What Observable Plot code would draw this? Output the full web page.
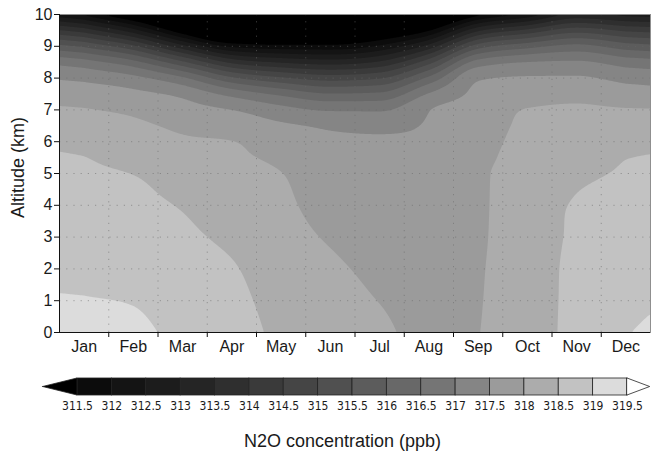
<!DOCTYPE html>
<html>
<head>
<meta charset="utf-8">
<script src="https://cdn.jsdelivr.net/npm/d3@7"></script>
<script src="https://cdn.jsdelivr.net/npm/@observablehq/plot@0.6"></script>
<style>
  body { margin: 0; background: #fff; }
  #chart svg { display: block; }
</style>
</head>
<body>
<div id="chart"></div>
<script>
// Monthly mean N2O (ppb) by altitude; one column per month, listed bottom to top.
const months = ["Jan", "Feb", "Mar", "Apr", "May", "Jun", "Jul", "Aug", "Sep", "Oct", "Nov", "Dec"];
const altitudes = [0, 1, 2, 3, 4, 5, 5.5, 6, 6.5, 7, 7.5, 8, 8.5, 9, 9.5, 10];
const n2o = [
  [319.15, 319.02, 318.90, 318.79, 318.68, 318.56, 318.51, 318.36, 318.19, 318.03, 317.75, 317.39, 316.70, 315.43, 313.77, 311.88], // Jan
  [319.10, 318.98, 318.86, 318.74, 318.62, 318.49, 318.36, 318.22, 318.09, 317.91, 317.62, 317.14, 316.16, 314.61, 312.69, 310.70], // Feb
  [318.88, 318.78, 318.68, 318.58, 318.47, 318.27, 318.16, 318.06, 317.91, 317.68, 317.38, 316.58, 315.10, 313.17, 311.08, 309.50], // Mar
  [318.75, 318.64, 318.54, 318.41, 318.28, 318.15, 318.08, 318.01, 317.78, 317.50, 316.84, 315.59, 313.88, 311.90, 309.90, 309.50], // Apr
  [318.38, 318.31, 318.23, 318.16, 318.09, 318.01, 317.90, 317.73, 317.57, 317.18, 316.39, 315.08, 313.45, 311.68, 309.90, 309.50], // May
  [318.25, 318.16, 318.07, 317.96, 317.83, 317.69, 317.63, 317.56, 317.45, 316.95, 316.03, 314.78, 313.27, 311.66, 310.05, 309.50], // Jun
  [318.10, 317.99, 317.90, 317.81, 317.72, 317.63, 317.58, 317.54, 317.41, 316.94, 316.10, 314.96, 313.58, 312.09, 310.60, 309.50], // Jul
  [317.85, 317.80, 317.75, 317.70, 317.65, 317.60, 317.58, 317.55, 317.53, 317.49, 317.04, 316.12, 314.81, 313.20, 311.45, 309.80], // Aug
  [317.99, 317.97, 317.95, 317.92, 317.90, 317.88, 317.81, 317.75, 317.70, 317.66, 317.61, 317.45, 316.70, 315.25, 313.40, 311.30], // Sep
  [318.32, 318.34, 318.35, 318.36, 318.37, 318.35, 318.27, 318.18, 318.10, 318.02, 317.80, 317.55, 317.01, 315.82, 314.13, 312.11], // Oct
  [318.62, 318.59, 318.57, 318.54, 318.52, 318.43, 318.33, 318.24, 318.15, 318.06, 317.88, 317.56, 317.07, 316.15, 314.78, 313.09], // Nov
  [318.98, 318.88, 318.79, 318.70, 318.62, 318.54, 318.49, 318.33, 318.18, 318.03, 317.73, 317.35, 316.77, 315.74, 314.41, 312.81]  // Dec
];

// Shading levels and the colour of each interval (below the first level → first colour, above the last → last).
const levels = [311.5, 312, 312.5, 313, 313.5, 314, 314.5, 315, 315.5, 316, 316.5, 317, 317.5, 318, 318.5, 319, 319.5];
const levelLabels = ["311.5", "312", "312.5", "313", "313.5", "314", "314.5", "315", "315.5", "316", "316.5", "317", "317.5", "318", "318.5", "319", "319.5"];
const grays = ["#000000", "#0c0c0c", "#141414", "#1c1c1c", "#252525", "#2f2f2f", "#3a3a3a", "#454545", "#505050",
               "#5c5c5c", "#686868", "#757575", "#858585", "#9b9b9b", "#acacac", "#c2c2c2", "#dcdcdc", "#ffffff"];
const altitudeTicks = [0, 1, 2, 3, 4, 5, 6, 7, 8, 9, 10];
// Colour-bar end arrows reach this far beyond the first and last level.
const lowArrowEnd = 311.0;
const highArrowEnd = 319.83;

const font = "'Liberation Sans', Arial, Helvetica, sans-serif";
const narrowFont = "'Liberation Sans Narrow', 'DejaVu Sans Condensed', 'Liberation Sans', sans-serif";

const table = [];
months.forEach((m, i) => altitudes.forEach((a, j) => table.push({month: i, alt: a, value: n2o[i][j]})));

// Monotone cubic (Steffen) tangents for samples (xs, vs), xs ascending.
function tangents(xs, vs) {
  const n = xs.length, m = new Float64Array(n);
  const s = [];
  for (let i = 0; i < n - 1; ++i) s.push((vs[i + 1] - vs[i]) / (xs[i + 1] - xs[i]));
  m[0] = s[0];
  m[n - 1] = s[n - 2];
  for (let i = 1; i < n - 1; ++i) {
    const h0 = xs[i] - xs[i - 1], h1 = xs[i + 1] - xs[i];
    const p = (s[i - 1] * h1 + s[i] * h0) / (h0 + h1);
    m[i] = (Math.sign(s[i - 1]) + Math.sign(s[i])) * Math.min(Math.abs(s[i - 1]), Math.abs(s[i]), 0.5 * Math.abs(p));
  }
  return m;
}

// Cubic Hermite evaluation; beyond the end samples the trend continues at half slope.
function hermite(xs, vs, m, x, extend) {
  const n = xs.length;
  if (x <= xs[0]) return extend ? vs[0] + 0.5 * m[0] * (x - xs[0]) : vs[0];
  if (x >= xs[n - 1]) return extend ? vs[n - 1] + 0.5 * m[n - 1] * (x - xs[n - 1]) : vs[n - 1];
  let i = 0;
  while (x > xs[i + 1]) ++i;
  const h = xs[i + 1] - xs[i], t = (x - xs[i]) / h, t2 = t * t, t3 = t2 * t;
  return (2 * t3 - 3 * t2 + 1) * vs[i] + (t3 - 2 * t2 + t) * h * m[i]
       + (-2 * t3 + 3 * t2) * vs[i + 1] + (t3 - t2) * h * m[i + 1];
}

// Smooth interpolation of the month × altitude grid onto the contour raster.
function gridInterpolate(index, width, height, X, Y, V) {
  const idx = Array.from(index);
  const xs = Array.from(new Set(idx.map((i) => X[i]))).sort((a, b) => a - b);
  const ys = Array.from(new Set(idx.map((i) => Y[i]))).sort((a, b) => a - b);
  const grid = xs.map(() => new Float64Array(ys.length));
  for (const i of idx) grid[xs.indexOf(X[i])][ys.indexOf(Y[i])] = V[i];
  const colTangents = grid.map((col) => tangents(ys, col));
  const out = new Float64Array(width * height);
  const row = new Float64Array(xs.length);
  for (let r = 0; r < height; ++r) {
    for (let c = 0; c < xs.length; ++c) row[c] = hermite(ys, grid[c], colTangents[c], r + 0.5, false);
    const mx = tangents(xs, row);
    for (let q = 0; q < width; ++q) out[r * width + q] = hermite(xs, row, mx, q + 0.5, true);
  }
  return out;
}

const monthIndex = months.map((_, i) => i);
const monthEdges = months.slice(1).map((_, i) => i + 0.5);
const colorScale = {type: "threshold", domain: levels, range: grays};

const main = Plot.plot({
  width: 652,
  height: 360,
  marginLeft: 59,
  marginRight: 2,
  marginTop: 14,
  marginBottom: 28,
  x: {domain: [-0.5, 11.5]},
  y: {domain: [0, 10]},
  color: colorScale,
  style: {fontFamily: font, background: "#fff", color: "#1a1a1a"},
  marks: [
    Plot.contour(table, {
      x: "month", y: "alt", fill: "value",
      thresholds: [300, ...levels],
      interpolate: gridInterpolate,
      pixelSize: 1,
      blur: 1,
      stroke: "none",
      clip: true
    }),
    Plot.gridX(monthEdges, {stroke: "#6a6a6a", strokeOpacity: 0.55, strokeDasharray: "1.2,6"}),
    Plot.gridY(altitudeTicks.slice(1, -1), {stroke: "#6a6a6a", strokeOpacity: 0.55, strokeDasharray: "1.2,6"}),
    Plot.frame({stroke: "#8f8f8f"}),
    Plot.ruleX([-0.5], {stroke: "#111"}),
    Plot.ruleY([0], {stroke: "#111"}),
    Plot.axisY(altitudeTicks, {tickSize: 5, tickPadding: 2, fontSize: 16, label: null, stroke: "#111"}),
    Plot.axisX(monthEdges, {tickSize: 5, tickFormat: () => "", label: null, stroke: "#111"}),
    Plot.axisX(monthIndex, {tickSize: 0, tickPadding: 8, tickFormat: (i) => months[i], fontSize: 16, label: null}),
    Plot.text(["Altitude (km)"], {frameAnchor: "left", rotate: -90, textAnchor: "middle", dx: -41.5, dy: -6, fontSize: 18})
  ]
});

const boxes = levels.slice(0, -1).map((lo, i) => ({lo, hi: levels[i + 1]}));
const lowArrow = [{x: lowArrowEnd, y1: 0.5, y2: 0.5}, {x: levels[0], y1: 0, y2: 1}];
const highArrow = [{x: levels[levels.length - 1], y1: 0, y2: 1}, {x: highArrowEnd, y1: 0.5, y2: 0.5}];

const bar = Plot.plot({
  width: 652,
  height: 93,
  marginLeft: 77,
  marginRight: 25,
  marginTop: 18,
  marginBottom: 58,
  x: {domain: [levels[0], levels[levels.length - 1]]},
  y: {domain: [0, 1], axis: null},
  color: colorScale,
  style: {fontFamily: font, background: "#fff", color: "#1a1a1a"},
  marks: [
    Plot.rect(boxes, {x1: "lo", x2: "hi", y1: () => 0, y2: () => 1, fill: "lo", stroke: "#222", strokeWidth: 0.8}),
    Plot.areaY(lowArrow, {x: "x", y1: "y1", y2: "y2", fill: grays[0], stroke: "#222", strokeWidth: 0.8}),
    Plot.areaY(highArrow, {x: "x", y1: "y1", y2: "y2", fill: grays[grays.length - 1], stroke: "#222", strokeWidth: 0.8}),
    Plot.axisX(levels, {tickSize: 0, tickPadding: 6, tickFormat: (d) => levelLabels[levels.indexOf(d)], fontSize: 12, fontFamily: narrowFont, label: null}),
    Plot.text(["N2O concentration (ppb)"], {frameAnchor: "bottom", lineAnchor: "middle", dx: -10, dy: 46, fontSize: 18})
  ]
});

const chart = document.getElementById("chart");
chart.append(main, bar);
</script>
</body>
</html>
